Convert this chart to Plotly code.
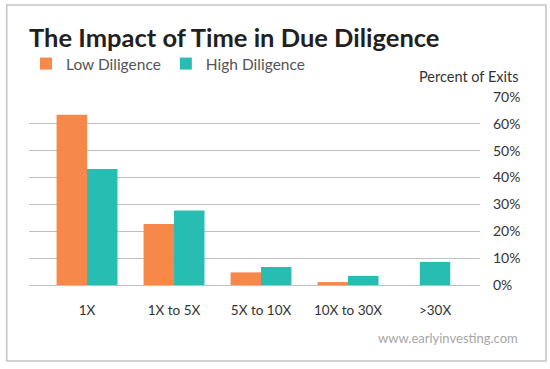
import plotly.graph_objects as go

categories = ["1X", "1X to 5X", "5X to 10X", "10X to 30X", ">30X"]
low_diligence = [63.4, 22.7, 4.7, 1.1, 0]
high_diligence = [43.2, 27.7, 6.7, 3.4, 8.6]
y_ticks = [0, 10, 20, 30, 40, 50, 60, 70]
y_tick_labels = [f"{v}%" for v in y_ticks]

ORANGE = "#F6884A"
TEAL = "#27BDB2"
FONT = "Lato"
W = 0.35

fig = go.Figure()
fig.add_trace(go.Bar(
    x=categories, y=low_diligence, name="Low Diligence",
    marker=dict(color=ORANGE, line=dict(width=0)),
    width=W, offset=-W,
))
fig.add_trace(go.Bar(
    x=categories, y=high_diligence, name="High Diligence",
    marker=dict(color=TEAL, line=dict(width=0)),
    width=W, offset=[0, 0, 0, 0, -W / 2],
))

L, R, T, B = 29, 70, 97, 84
PW, PH = 550 - L - R, 369 - T - B

def px(xp):
    return (xp - L) / PW

def py(yp):
    return (369 - B - yp) / PH

fig.update_layout(
    width=550, height=369,
    margin=dict(l=L, r=R, t=T, b=B, pad=0, autoexpand=False),
    paper_bgcolor="white", plot_bgcolor="white",
    barmode="overlay",
    font=dict(family=FONT, color="#333333", size=13),
    title=dict(
        text="<b>The Impact of Time in Due Diligence</b>",
        font=dict(family=FONT, size=25.5, color="#231F20"),
        x=29 / 550, xanchor="left", xref="container",
        y=1 - 38 / 369, yanchor="middle", yref="container",
    ),
    showlegend=True,
    legend=dict(
        orientation="h", xref="container", yref="container",
        x=26 / 550, xanchor="left", y=1 - 64 / 369, yanchor="middle",
        font=dict(family=FONT, size=15.5, color="#555555"),
        bgcolor="rgba(0,0,0,0)", traceorder="normal",
    ),
    xaxis=dict(
        type="category", range=[-0.667, 4.517], automargin=False,
        showgrid=False, zeroline=False, showline=False, ticks="",
        tickfont=dict(family=FONT, size=13.5, color="#333333"),
        ticklabelstandoff=15,
    ),
    yaxis=dict(
        side="right", range=[0, 70], automargin=False,
        tickvals=y_ticks, ticktext=y_tick_labels,
        showgrid=True, gridcolor="#BFBFBF", gridwidth=1,
        zeroline=True, zerolinecolor="#BFBFBF", zerolinewidth=1,
        showline=False, ticks="",
        tickfont=dict(family=FONT, size=14, color="#333333"),
        ticklabelstandoff=12,
    ),
    shapes=[dict(
        type="rect", xref="paper", yref="paper",
        x0=px(6.7), x1=px(546), y0=py(361), y1=py(5),
        line=dict(color="#C4C4C4", width=1.5), fillcolor="rgba(0,0,0,0)",
        layer="below",
    )],
    annotations=[
        dict(text="Percent of Exits", xref="paper", yref="paper",
             x=px(520), y=py(76), xanchor="right", yanchor="middle",
             showarrow=False, font=dict(family=FONT, size=14.5, color="#333333")),
        dict(text="www.earlyinvesting.com", xref="paper", yref="paper",
             x=px(520), y=py(338), xanchor="right", yanchor="middle",
             showarrow=False, font=dict(family=FONT, size=13, color="#A6A6A6")),
    ],
)

fig.write_html(
    "out.html",
    config={"displayModeBar": False},
    post_script="document.body.style.margin='0px';",
)
